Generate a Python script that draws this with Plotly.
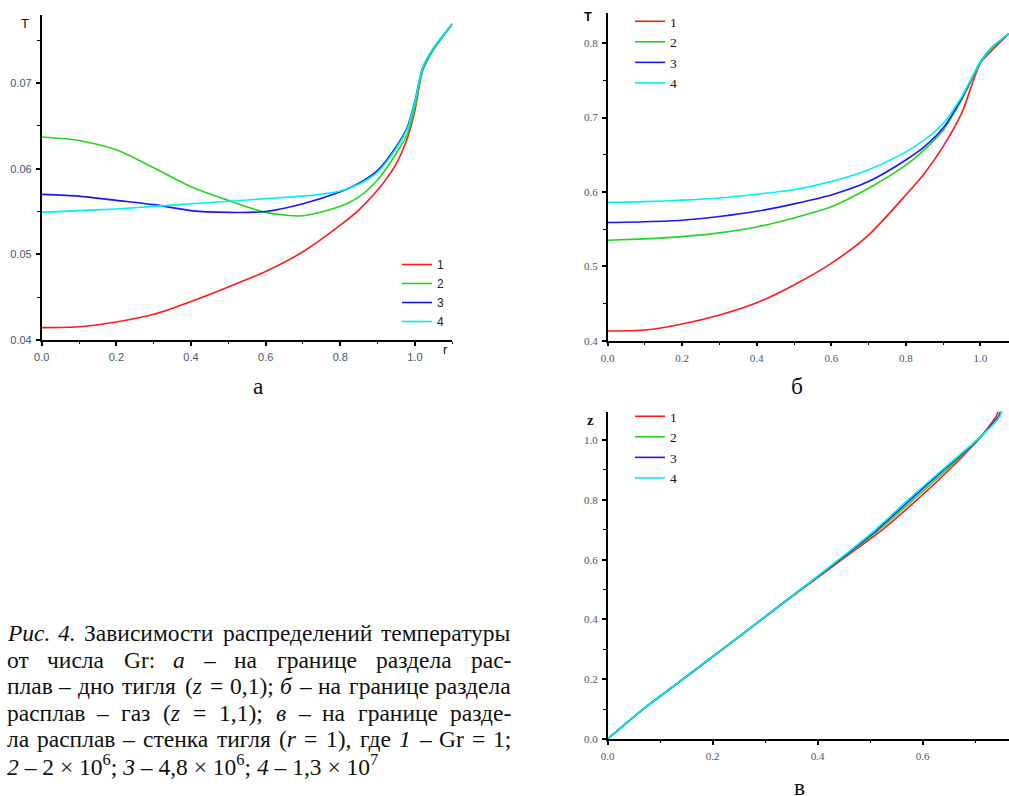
import re
import plotly.graph_objects as go

# ---------------- data ----------------
series_names = ["1", "2", "3", "4"]
series_colors = ["#ff1a1a", "#1ed81e", "#1a1aee", "#00f0f0"]

# panel а : T(r) at melt / crucible bottom
r_a = [0, 0.1, 0.2, 0.3, 0.4, 0.5, 0.6, 0.7, 0.8, 0.85, 0.9, 0.95, 0.98, 1.0, 1.02, 1.05, 1.1]
T_a_1 = [0.04145, 0.04155, 0.0421, 0.0430, 0.0445, 0.0462, 0.0480, 0.0503, 0.0534, 0.0552, 0.0575, 0.0606, 0.0636, 0.0668, 0.0714, 0.0740, 0.0769]
T_a_2 = [0.0637, 0.0633, 0.0622, 0.0601, 0.0579, 0.0563, 0.0549, 0.0545, 0.0556, 0.0567, 0.0587, 0.0618, 0.0641, 0.0672, 0.0714, 0.0739, 0.0769]
T_a_3 = [0.0570, 0.0568, 0.0563, 0.0558, 0.0551, 0.0549, 0.0550, 0.0559, 0.0573, 0.0583, 0.0598, 0.0626, 0.0649, 0.0679, 0.0717, 0.0741, 0.0769]
T_a_4 = [0.0549, 0.0551, 0.0553, 0.0556, 0.0559, 0.0562, 0.0565, 0.0568, 0.0574, 0.0582, 0.0596, 0.0624, 0.0647, 0.0678, 0.0717, 0.0741, 0.0769]

# panel б : T(r) at melt / gas
r_b = [0, 0.1, 0.2, 0.3, 0.4, 0.5, 0.6, 0.7, 0.8, 0.85, 0.9, 0.95, 1.0, 1.03, 1.077]
T_b_1 = [0.413, 0.4143, 0.4224, 0.4345, 0.451, 0.475, 0.504, 0.542, 0.596, 0.625, 0.661, 0.706, 0.773, 0.790, 0.813]
T_b_2 = [0.535, 0.537, 0.540, 0.545, 0.553, 0.565, 0.580, 0.605, 0.636, 0.657, 0.683, 0.724, 0.773, 0.793, 0.813]
T_b_3 = [0.559, 0.560, 0.562, 0.567, 0.574, 0.584, 0.596, 0.614, 0.643, 0.661, 0.686, 0.726, 0.775, 0.794, 0.813]
T_b_4 = [0.586, 0.587, 0.589, 0.592, 0.597, 0.603, 0.614, 0.630, 0.654, 0.670, 0.692, 0.728, 0.775, 0.794, 0.813]

# panel в : T(z) at melt / crucible wall
z_c = [0, 0.103, 0.2, 0.3, 0.4, 0.5, 0.6, 0.7, 0.8, 0.9, 1.0, 1.05, 1.08, 1.1]
T_c_1 = [0, 0.070, 0.144, 0.219, 0.294, 0.369, 0.446, 0.523, 0.589, 0.650, 0.705, 0.728, 0.740, 0.745]
T_c_2 = [0, 0.070, 0.143, 0.218, 0.293, 0.368, 0.443, 0.517, 0.582, 0.645, 0.705, 0.731, 0.745, 0.749]
T_c_3 = [0, 0.070, 0.143, 0.218, 0.293, 0.367, 0.442, 0.513, 0.576, 0.640, 0.704, 0.731, 0.745, 0.750]
T_c_4 = [0, 0.070, 0.143, 0.218, 0.293, 0.367, 0.440, 0.510, 0.572, 0.637, 0.703, 0.733, 0.747, 0.751]

caption_lines = [
    ["<i>Рис.</i>", "<i>4.</i>", "Зависимости", "распределений", "температуры"],
    ["от", "числа", "Gr:", "<i>а</i>", "–", "на", "границе", "раздела", "рас-"],
    ["плав", "–", "дно", "тигля", "(<i>z</i>", "=", "0,1);", "<i>б</i>", "–", "на", "границе", "раздела"],
    ["расплав", "–", "газ", "(<i>z</i>", "=", "1,1);", "<i>в</i>", "–", "на", "границе", "разде-"],
    ["ла", "расплав", "–", "стенка", "тигля", "(<i>r</i>", "=", "1),", "где", "<i>1</i>", "–", "Gr", "=", "1;"],
]
caption_last = ("<i>2</i> – 2 × 10<sup>6</sup>; <i>3</i> – 4,8 × 10<sup>6</sup>; "
                "<i>4</i> – 1,3 × 10<sup>7</sup>")

# ---------------- layout helpers ----------------
W, H = 1009, 796
def px(x):
    return x / W
def py(y):
    return 1 - y / H

SERIF = "Liberation Serif, Times New Roman, serif"
SANS = "Liberation Sans, Arial, sans-serif"
TICKCOL = "#4a5670"

fig = go.Figure()

panels = [
    (r_a, [T_a_1, T_a_2, T_a_3, T_a_4], "x", "y", "legend"),
    (r_b, [T_b_1, T_b_2, T_b_3, T_b_4], "x2", "y2", "legend2"),
]
for xs, ys_list, xa, ya, lg in panels:
    for name, col, ys in zip(series_names, series_colors, ys_list):
        fig.add_trace(go.Scatter(x=xs, y=ys, mode="lines", name=name,
                                 line=dict(color=col, width=1.6, shape="spline", smoothing=0.7),
                                 xaxis=xa, yaxis=ya, legend=lg))
for name, col, xs in zip(series_names, series_colors, [T_c_1, T_c_2, T_c_3, T_c_4]):
    fig.add_trace(go.Scatter(x=xs, y=z_c, mode="lines", name=name,
                             line=dict(color=col, width=1.6, shape="spline", smoothing=0.7),
                             xaxis="x3", yaxis="y3", legend="legend3"))

def axis(domain, rng, dtick, mdtick, fmt, font, anchor):
    return dict(domain=domain, range=rng, dtick=dtick, tick0=0, tickformat=fmt,
                showline=True, linecolor="black", linewidth=1.5,
                ticks="outside", ticklen=4, tickwidth=1.5, tickcolor="black",
                minor=dict(ticks="outside", ticklen=2.5, tickwidth=1.2, tickcolor="black", dtick=mdtick),
                showgrid=False, zeroline=False, automargin=False, anchor=anchor,
                tickfont=dict(family=font, size=11, color=TICKCOL), ticklabelstandoff=2)

fig.update_layout(
    width=W, height=H, margin=dict(l=0, r=0, t=0, b=0),
    paper_bgcolor="white", plot_bgcolor="white",
    xaxis=axis([px(41.7), px(452.3)], [0, 1.1], 0.2, 0.1, ".1f", SANS, "y"),
    yaxis=axis([py(340), py(14.5)], [0.04, 0.078], 0.01, 0.005, ".2f", SANS, "x"),
    xaxis2=axis([px(607.7), 1.0], [0, 1.077], 0.2, 0.1, ".1f", SERIF, "y2"),
    yaxis2=axis([py(340.7), py(13.3)], [0.4, 0.8403], 0.1, 0.05, ".1f", SERIF, "x2"),
    xaxis3=axis([px(607.7), 1.0], [0, 0.7644], 0.2, 0.1, ".1f", SERIF, "y3"),
    yaxis3=axis([py(739), py(411.7)], [0, 1.095], 0.2, 0.1, ".1f", SERIF, "x3"),
    legend=dict(x=px(397), y=py(250), xanchor="left", yanchor="top",
                bgcolor="rgba(0,0,0,0)", font=dict(family=SANS, size=12, color="#222"),
                itemwidth=30, tracegroupgap=0),
    legend2=dict(x=px(630), y=py(6), xanchor="left", yanchor="top",
                 bgcolor="rgba(0,0,0,0)", font=dict(family=SERIF, size=13.5, color="#111"),
                 itemwidth=30, tracegroupgap=0),
    legend3=dict(x=px(630), y=py(401), xanchor="left", yanchor="top",
                 bgcolor="rgba(0,0,0,0)", font=dict(family=SERIF, size=13.5, color="#111"),
                 itemwidth=30, tracegroupgap=0),
)

ann = []
def add_text(x, y, text, font, size, xanchor="center", yanchor="middle", color="#111"):
    ann.append(dict(xref="paper", yref="paper", x=px(x), y=py(y), text=text, showarrow=False,
                    xanchor=xanchor, yanchor=yanchor, borderpad=0,
                    font=dict(family=font, size=size, color=color)))

# axis letters
add_text(25, 23, "T", SANS, 13)
add_text(445, 349, "r", SANS, 13)
add_text(588, 17, "<b>T</b>", SANS, 13)
add_text(590, 420, "<b>z</b>", SERIF, 15)
# panel labels
add_text(258, 386, "а", SERIF, 23.5)
add_text(797, 386, "б", SERIF, 23.5)
add_text(799, 787, "в", SERIF, 23.5)

# caption with justified lines
CW = {' ': 250, '(': 333, ')': 333, ',': 250, '.': 250, ';': 278, ':': 278, '=': 564, '–': 500,
      '-': 333, '×': 564, 'G': 722, 'r': 333, 'z': 444, 'Р': 611, 'З': 490,
      'а': 444, 'б': 509, 'в': 472, 'г': 410, 'д': 509, 'е': 444, 'ж': 691, 'з': 395, 'и': 535,
      'й': 535, 'к': 485, 'л': 499, 'м': 633, 'н': 535, 'о': 500, 'п': 535, 'р': 500, 'с': 444,
      'т': 437, 'у': 500, 'ф': 648, 'х': 500, 'ц': 535, 'ч': 503, 'ш': 770, 'щ': 770, 'ъ': 517,
      'ы': 672, 'ь': 456, 'э': 440, 'ю': 740, 'я': 487}
FS = 23.5
def tw(tok):
    plain = re.sub(r"<[^>]+>", "", tok)
    return sum(CW.get(c, 500) for c in plain) * FS / 1000.0

X0, X1 = 6, 512
line_mid = [633, 659.5, 686, 712.5, 739]
for toks, ym in zip(caption_lines, line_mid):
    widths = [tw(t) for t in toks]
    gap = (X1 - X0 - sum(widths)) / (len(toks) - 1)
    xcur = X0
    for i, (t, w) in enumerate(zip(toks, widths)):
        if i == 0:
            add_text(X0, ym, t, SERIF, FS, xanchor="left")
        elif i == len(toks) - 1:
            add_text(X1, ym, t, SERIF, FS, xanchor="right")
        else:
            add_text(xcur + w / 2, ym, t, SERIF, FS, xanchor="center")
        xcur += w + gap
add_text(X0, 765, caption_last, SERIF, FS, xanchor="left")

fig.update_layout(annotations=ann)
fig.write_html("out.html", config={"displayModeBar": False},
               post_script="document.body.style.margin='0px';")
